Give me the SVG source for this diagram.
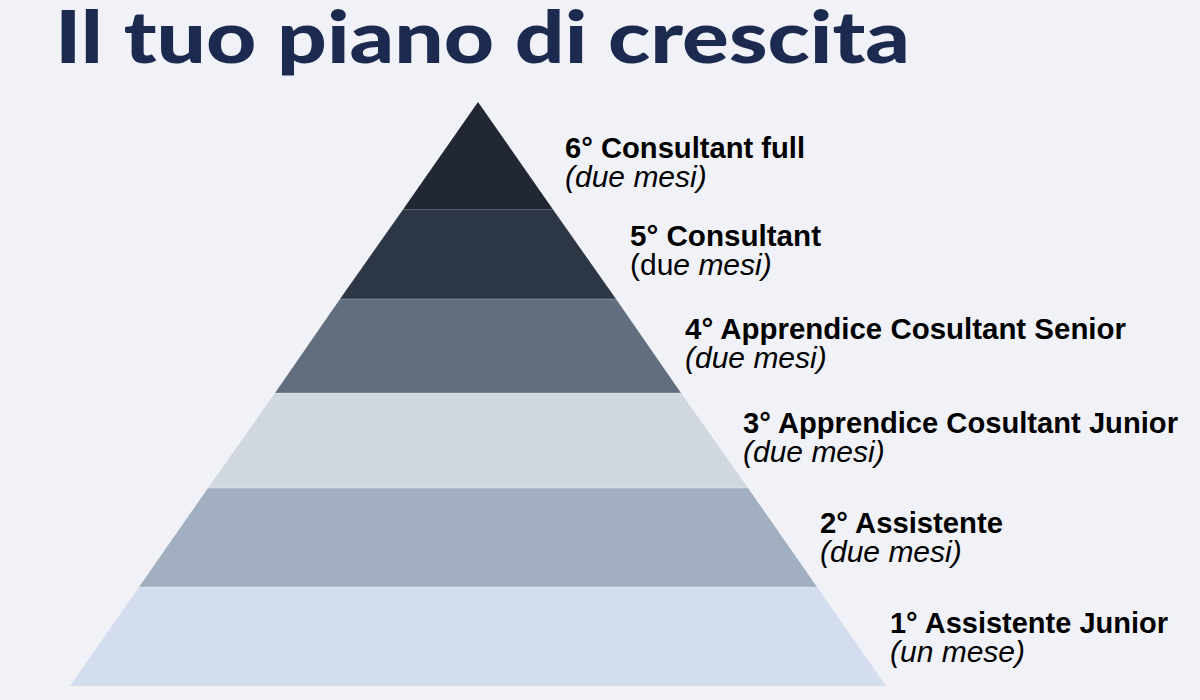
<svg xmlns="http://www.w3.org/2000/svg" width="1200" height="700" viewBox="0 0 1200 700">
  <style>
    .title { font-family: Lato, "Open Sans", "Liberation Sans", sans-serif; font-weight: 900; font-size: 72px; fill: #1b2a4e; }
    .lbl { font-family: "Liberation Sans", Arial, sans-serif; font-size: 29px; font-weight: 700; fill: #000000; }
    .sub { font-family: "Liberation Sans", Arial, sans-serif; font-size: 30px; fill: #000000; font-style: italic; }
    .up { font-style: normal; }
    .sep { stroke: #ffffff; stroke-opacity: 0.18; stroke-width: 1.5; }
  </style>
  <rect x="0" y="0" width="1200" height="700" fill="#f0f2f7"/>
  <text class="title" x="55" y="63" textLength="855" lengthAdjust="spacingAndGlyphs">Il tuo piano di crescita</text>

  <g id="level6">
    <polygon points="478,102 553,209.5 403,209.5" fill="#212833"/>
    <text class="lbl" x="565" y="158" textLength="240" lengthAdjust="spacingAndGlyphs">6° Consultant full</text>
    <text class="sub" x="565" y="187">(due mesi)</text>
  </g>
  <g id="level5">
    <polygon points="403,209.5 553,209.5 616,299 340,299" fill="#2d3645"/>
    <text class="lbl" x="630" y="246" textLength="191" lengthAdjust="spacingAndGlyphs">5° Consultant</text>
    <text class="sub" x="630" y="275"><tspan class="up">(du</tspan>e mesi)</text>
  </g>
  <g id="level4">
    <polygon points="340,299 616,299 681,393 275,393" fill="#626d7d"/>
    <text class="lbl" x="685" y="339" textLength="441" lengthAdjust="spacingAndGlyphs">4° Apprendice Cosultant Senior</text>
    <text class="sub" x="685" y="368">(due mesi)</text>
  </g>
  <g id="level3">
    <polygon points="275,393 681,393 748,488 208,488" fill="#d0d7df"/>
    <text class="lbl" x="743" y="433" textLength="435" lengthAdjust="spacingAndGlyphs">3° Apprendice Cosultant Junior</text>
    <text class="sub" x="743" y="462">(due mesi)</text>
  </g>
  <g id="level2">
    <polygon points="208,488 748,488 817,587 139,587" fill="#a2afc0"/>
    <text class="lbl" x="820" y="533" textLength="183" lengthAdjust="spacingAndGlyphs">2° Assistente</text>
    <text class="sub" x="820" y="562">(due mesi)</text>
  </g>
  <g id="level1">
    <polygon points="139,587 817,587 886,686 70,686" fill="#d4ddee"/>
    <text class="lbl" x="890" y="633" textLength="278" lengthAdjust="spacingAndGlyphs">1° Assistente Junior</text>
    <text class="sub" x="890" y="662">(un mese)</text>
  </g>
  <g id="separators">
    <line class="sep" x1="340" y1="299" x2="616" y2="299"/>
    <line class="sep" x1="275" y1="393" x2="681" y2="393"/>
    <line class="sep" x1="208" y1="488" x2="748" y2="488"/>
    <line class="sep" x1="139" y1="587" x2="817" y2="587"/>
  </g>
</svg>
